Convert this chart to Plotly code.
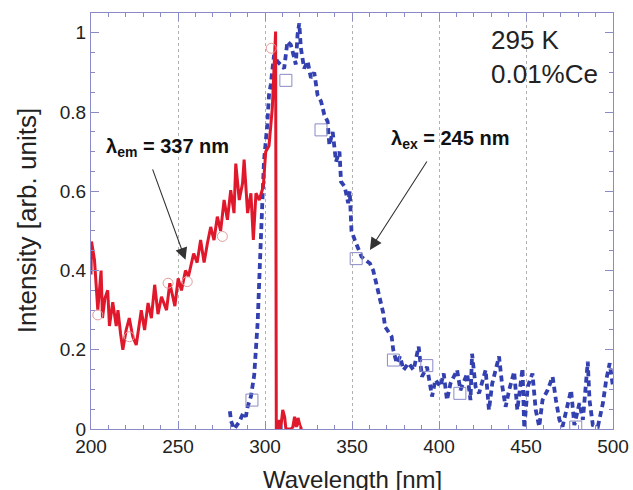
import plotly.graph_objects as go

# Excitation spectrum (lambda_em = 337 nm), red solid
red_x = [200.0, 200.3, 202.0, 203.9, 205.8, 206.6, 208.0, 209.6, 210.6, 212.5, 214.5, 215.5,
         217.0, 218.3, 220.2, 222.0, 224.0, 226.0, 228.9, 230.8, 232.8, 234.7, 236.6, 238.5,
         240.5, 243.4, 245.3, 248.2, 250.1, 252.0, 254.3, 256.0, 259.0, 261.0, 263.0, 265.0,
         266.9, 268.8, 270.7, 272.6, 274.5, 276.5, 278.4, 280.3, 282.2, 283.2, 285.2, 287.1,
         288.0, 290.0, 291.9, 293.3, 294.8, 296.7, 299.0, 300.4, 302.3, 304.2, 306.1, 306.5,
         307.5, 308.3, 309.0, 310.2, 311.3, 312.0, 315.0, 316.0, 317.0, 318.0, 319.0, 320.0, 321.0]
red_y = [0.39, 0.473, 0.427, 0.30, 0.40, 0.28, 0.33, 0.35, 0.26, 0.32, 0.26, 0.30,
         0.24, 0.20, 0.25, 0.28, 0.233, 0.212, 0.30, 0.25, 0.318, 0.28, 0.364, 0.29,
         0.334, 0.30, 0.368, 0.31, 0.38, 0.35, 0.40, 0.385, 0.443, 0.42, 0.477, 0.42,
         0.469, 0.51, 0.477, 0.536, 0.50, 0.578, 0.528, 0.603, 0.545, 0.67, 0.578, 0.62,
         0.68, 0.545, 0.595, 0.477, 0.595, 0.578, 0.612, 0.70, 0.715, 0.81, 1.003, 0.0,
         0.0, 0.023, 0.0, 0.048, 0.03, 0.0, 0.0, 0.005, 0.031, 0.005, 0.028, 0.01, 0.0]

# Emission spectrum (lambda_ex = 245 nm), blue dashed
blue_x = [279.8, 280.5, 282.3, 285.2, 287.5, 289.0, 290.0, 291.9, 293.8, 295.8, 297.0, 297.7,
          298.5, 299.4, 301.3, 302.3, 303.3, 305.2, 307.1, 309.0, 311.0, 312.9, 314.8, 316.8,
          317.7, 318.7, 319.7, 320.6, 322.5, 324.5, 326.4, 328.3, 330.2, 332.2, 334.1, 336.0,
          337.0, 338.9, 340.8, 342.8, 343.7, 345.8, 347.8, 348.7, 349.7, 351.6, 353.6, 355.5,
          357.5, 360.3, 362.2, 364.2, 366.1, 368.0, 369.0, 372.8, 373.7, 375.7, 377.6, 379.6,
          382.5, 385.4, 388.3, 390.2, 393.1, 396.0, 397.9, 400.8, 402.7, 404.6, 406.6, 410.4,
          412.3, 416.2, 418.1, 419.0, 421.0, 423.0, 426.8, 428.7, 430.6, 434.5, 436.4, 438.3,
          440.3, 443.2, 445.0, 448.0, 449.0, 451.0, 453.7, 455.6, 457.6, 459.5, 462.4, 465.3,
          467.2, 469.2, 471.0, 473.0, 475.9, 477.8, 480.7, 482.7, 485.5, 486.5, 488.4, 491.3,
          494.2, 496.1, 498.1, 500.0]
blue_y = [0.045, 0.02, 0.0, 0.018, 0.04, 0.031, 0.056, 0.082, 0.136, 0.27, 0.41, 0.50,
          0.61, 0.675, 0.768, 0.843, 0.869, 0.944, 0.928, 0.919, 0.91, 0.978, 0.97, 0.937,
          0.92, 0.995, 1.024, 0.962, 0.91, 0.928, 0.886, 0.90, 0.843, 0.827, 0.793, 0.776,
          0.717, 0.75, 0.675, 0.70, 0.624, 0.612, 0.57, 0.60, 0.50, 0.477, 0.452, 0.435,
          0.427, 0.418, 0.40, 0.36, 0.326, 0.292, 0.258, 0.233, 0.20, 0.166, 0.183, 0.149,
          0.166, 0.149, 0.208, 0.132, 0.157, 0.082, 0.124, 0.107, 0.14, 0.073, 0.115, 0.149,
          0.098, 0.14, 0.073, 0.19, 0.107, 0.09, 0.149, 0.048, 0.115, 0.183, 0.107, 0.056,
          0.098, 0.145, 0.048, 0.153, 0.002, 0.107, 0.14, 0.048, 0.006, 0.073, 0.098, 0.132,
          0.073, 0.023, 0.006, 0.048, 0.098, 0.01, 0.065, 0.023, 0.17, 0.073, 0.01, 0.006,
          0.065, 0.124, 0.166, 0.107]

# sparse symbols
circle_x = [203.9, 222.0, 244.3, 255.3, 275.5, 303.6]
circle_y = [0.288, 0.233, 0.368, 0.372, 0.486, 0.961]
square_x = [292.5, 312.0, 332.2, 352.4, 373.8, 393.0, 412.0, 478.6]
square_y = [0.073, 0.88, 0.755, 0.43, 0.174, 0.16, 0.09, 0.005]

FONT = "Liberation Sans, Arial, Helvetica, sans-serif"
AXC = "#8a8ac6"

fig = go.Figure()
fig.add_trace(go.Scatter(x=blue_x, y=blue_y, mode="lines",
                         line=dict(color="#3340b0", width=3.8, dash="6px,4px"),
                         showlegend=False))
fig.add_trace(go.Scatter(x=red_x, y=red_y, mode="lines",
                         line=dict(color="#e0182c", width=3),
                         showlegend=False))
fig.add_trace(go.Scatter(x=circle_x, y=circle_y, mode="markers",
                         marker=dict(symbol="circle-open", size=10, color="#e59a9a",
                                     line=dict(width=1, color="#e59a9a")),
                         showlegend=False))
fig.add_trace(go.Scatter(x=square_x, y=square_y, mode="markers",
                         marker=dict(symbol="square-open", size=12, color="#8a8ac6",
                                     line=dict(width=1, color="#8a8ac6")),
                         showlegend=False))

axis_common = dict(showline=True, linecolor=AXC, linewidth=1.2, mirror="ticks",
                   ticks="inside", ticklen=8, tickcolor=AXC, tickwidth=1,
                   tickfont=dict(family=FONT, size=19, color="#222"),
                   zeroline=False)
fig.update_xaxes(range=[200, 500], dtick=50, tick0=200,
                 showgrid=True, gridcolor="#b0b0b0", griddash="dot", gridwidth=1,
                 minor=dict(dtick=10, ticks="inside", ticklen=4, tickcolor=AXC, showgrid=False),
                 **axis_common)
fig.update_yaxes(range=[0, 1.05], dtick=0.2, tick0=0, showgrid=False,
                 minor=dict(dtick=0.05, ticks="inside", ticklen=4, tickcolor=AXC, showgrid=False),
                 **axis_common)

anns = [
    dict(text="Wavelength [nm]", xref="paper", yref="paper", x=0.5, y=-0.122,
         xanchor="center", yanchor="middle", showarrow=False,
         font=dict(family=FONT, size=24, color="#222")),
    dict(text="Intensity [arb. units]", xref="paper", yref="paper", x=-0.122, y=0.5,
         xanchor="center", yanchor="middle", textangle=-90, showarrow=False,
         font=dict(family=FONT, size=26, color="#222")),
    dict(text="295 K<br>0.01%Ce", xref="x", yref="y", x=428.5, y=1.025,
         xanchor="left", yanchor="top", align="left", showarrow=False,
         font=dict(family=FONT, size=26, color="#222")),
    dict(text="<b>λ<sub>em</sub> = 337 nm</b>", xref="x", yref="y", x=207.5, y=0.71,
         xanchor="left", yanchor="middle", showarrow=False,
         font=dict(family=FONT, size=20, color="#111")),
    dict(text="<b>λ<sub>ex</sub> = 245 nm</b>", xref="x", yref="y", x=371.5, y=0.73,
         xanchor="left", yanchor="middle", showarrow=False,
         font=dict(family=FONT, size=20, color="#111")),
    dict(text="", x=254.3, y=0.427, ax=235.1, ay=0.659, xref="x", yref="y",
         axref="x", ayref="y", showarrow=True, arrowhead=2, arrowsize=2.2,
         arrowwidth=1.1, arrowcolor="#333"),
    dict(text="", x=360.3, y=0.452, ax=393.6, ay=0.679, xref="x", yref="y",
         axref="x", ayref="y", showarrow=True, arrowhead=2, arrowsize=2.2,
         arrowwidth=1.1, arrowcolor="#333"),
]
fig.update_layout(width=633, height=490, margin=dict(l=91, r=20, t=13, b=61, autoexpand=False),
                  paper_bgcolor="white", plot_bgcolor="white", annotations=anns,
                  font=dict(family=FONT))

fig.write_html("out.html")
